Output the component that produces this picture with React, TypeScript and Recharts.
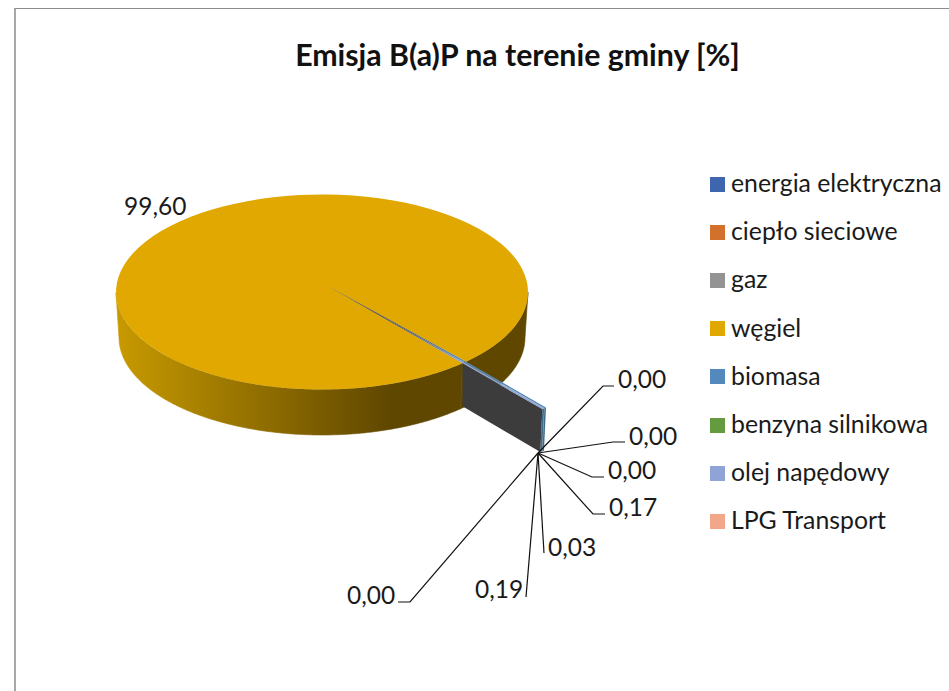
import React from 'react';
import { PieChart, Pie, Legend } from 'recharts';

const categories = ['energia elektryczna', 'ciepło sieciowe', 'gaz', 'węgiel', 'biomasa', 'benzyna silnikowa', 'olej napędowy', 'LPG Transport'];
const values = [0.0, 0.0, 0.0, 99.6, 0.17, 0.03, 0.19, 0.0];
const colors = ['#3d66ae', '#d2702c', '#939393', '#e0a800', '#5489bd', '#639b3e', '#8fa3d6', '#f2a78a'];

// label layout: text left / vertical centre, then the leader's elbow and its end
const labelLayout: { x: number; y: number; line: number[][] }[] = [
  { x: 618, y: 378, line: [[603, 386], [614, 386]] },
  { x: 629, y: 435, line: [[613, 442], [625, 442]] },
  { x: 608, y: 469, line: [[592, 477], [604, 477]] },
  { x: 124, y: 205, line: [] },
  { x: 609, y: 506, line: [[593, 514], [605, 514]] },
  { x: 548, y: 546, line: [[544, 553]] },
  { x: 475, y: 588, line: [[526, 597]] },
  { x: 347, y: 594, line: [[410, 602], [398, 602]] },
];
const leaderOrigin = [538, 453];

const rows = categories.map((name, i) => ({ name, value: values[i], fill: colors[i] }));

const FONT = 'Lato, "Open Sans", sans-serif';
const RY = 97.5;
const BOTTOM_DY = 45.5;
const BOTTOM_RX_DELTA = 3;
const SLAB_DEPTH = 43;
const APEX_DX = 4;
const APEX_DY = -7;
const EXPLODE = 1.585;
const START = -47;

const rad = (a: number) => (a * Math.PI) / 180;
const pt = (cx: number, cy: number, rx: number, ry: number, a: number) => [
  cx + rx * Math.cos(rad(a)),
  cy - ry * Math.sin(rad(a)),
];
const f = (p: number[]) => `${p[0].toFixed(2)} ${p[1].toFixed(2)}`;

// The exploded slices slide outward along the slice direction, seen from the apex.
const shiftFor = (cx: number, cy: number, R: number, a: number) => {
  const rim = pt(cx, cy, R, RY, a);
  return [(EXPLODE - 1) * (rim[0] - (cx + APEX_DX)), (EXPLODE - 1) * (rim[1] - (cy + APEX_DY))];
};

function WallShape(props: any) {
  const { cx, cy, outerRadius: R, startAngle, endAngle, value, index } = props;
  if (!value) return <g />;
  const hi = Math.max(startAngle, endAngle);
  const lo = Math.min(startAngle, endAngle);
  const runs: number[][] = [];
  let run: number[] | null = null;
  for (let a = lo; a <= hi + 1e-6; a += 0.5) {
    if (Math.sin(rad(a)) <= 0.0001) {
      if (!run) { run = []; runs.push(run); }
      run.push(a);
    } else run = null;
  }
  if (run && run[run.length - 1] < hi && Math.sin(rad(hi)) <= 0) run.push(hi);
  const paths = runs.filter((r) => r.length > 0).map((r) => {
    const top = r.map((a) => pt(cx, cy, R, RY, a));
    const bot = r.slice().reverse().map((a) => pt(cx, cy + BOTTOM_DY, R - BOTTOM_RX_DELTA, RY, a));
    return 'M' + [...top, ...bot].map(f).join('L') + 'Z';
  });
  const gid = `wall-${index}`;
  const isWedge = hi - lo < 10;
  const shift = shiftFor(cx, cy, R, START);
  const rimLo = pt(cx, cy, R, RY, lo);
  const rimHi = pt(cx, cy, R, RY, hi);
  const tipLo = [rimLo[0] + shift[0], rimLo[1] + shift[1]];
  const tipHi = [rimHi[0] + shift[0], rimHi[1] + shift[1]];
  const isLast = isWedge && index === values.map((v) => v > 0).lastIndexOf(true);
  return (
    <g>
      <defs>
        <linearGradient id={gid} gradientUnits="userSpaceOnUse" x1={cx - R} x2={cx + 68} y1={0} y2={0}>
          <stop offset="0" stopColor="#c89a00" />
          <stop offset="1" stopColor="#5f4700" />
        </linearGradient>
      </defs>
      {paths.map((d, i) => <path key={i} d={d} fill={`url(#${gid})`} stroke={`url(#${gid})`} strokeWidth={0.6} />)}
      {isWedge && (
        <path
          d={`M${f(tipLo)}L${f(tipHi)}L${tipHi[0] - 2} ${tipHi[1] + SLAB_DEPTH}L${tipLo[0] - 2} ${tipLo[1] + SLAB_DEPTH}Z`}
          fill="#3f6b8c"
        />
      )}
      {isLast && (
        <path
          d={`M${f(rimLo)}L${f(tipLo)}L${tipLo[0] - 2} ${tipLo[1] + SLAB_DEPTH}L${rimLo[0]} ${rimLo[1] + SLAB_DEPTH}Z`}
          fill="#3c3c3c"
        />
      )}
    </g>
  );
}

function TopShape(props: any) {
  const { cx, cy, outerRadius: R, startAngle, endAngle, value, fill, index } = props;
  if (!value) return <g />;
  const hi = Math.max(startAngle, endAngle);
  const lo = Math.min(startAngle, endAngle);
  const isWedge = hi - lo < 10;
  const apex = [cx + APEX_DX, cy + APEX_DY];
  const a = pt(cx, cy, R, RY, hi);
  const b = pt(cx, cy, R, RY, lo);
  const large = hi - lo > 180 ? 1 : 0;
  if (!isWedge) {
    return <path d={`M${f(apex)}L${f(a)}A${R} ${RY} 0 ${large} 1 ${f(b)}Z`} fill={fill} />;
  }
  const shift = shiftFor(cx, cy, R, START);
  const ta = [a[0] + shift[0], a[1] + shift[1]];
  const tb = [b[0] + shift[0], b[1] + shift[1]];
  const gid = `wedge-${index}`;
  return (
    <g>
      <defs>
        <linearGradient id={gid} gradientUnits="userSpaceOnUse" x1={apex[0]} y1={apex[1]} x2={b[0]} y2={b[1]}>
          <stop offset="0.35" stopColor="#2f2a10" />
          <stop offset="1" stopColor={fill} />
        </linearGradient>
      </defs>
      <path d={`M${f(apex)}L${f(a)}L${f(ta)}L${f(tb)}L${f(b)}Z`} fill={`url(#${gid})`} />
    </g>
  );
}

const renderLabel = (props: any) => {
  const l = labelLayout[props.index];
  return (
    <text
      key={props.index}
      x={l.x}
      y={l.y}
      fontFamily={FONT}
      fontSize={24.5}
      fill="#1a1a1a"
      dominantBaseline="central"
    >
      {props.value.toFixed(2).replace('.', ',')}
    </text>
  );
};

const renderLine = (props: any) => {
  const l = labelLayout[props.index];
  if (!l.line.length) return <g key={props.index} />;
  const pts = [leaderOrigin, ...l.line].map((p) => p.join(',')).join(' ');
  return <polyline key={props.index} points={pts} fill="none" stroke="#111" strokeWidth={1.2} />;
};

const renderLegend = (props: any) => {
  const items = categories.map((name) => props.payload.find((p: any) => p.value === name && p.type !== 'none')).filter(Boolean);
  return (
    <div style={{ fontFamily: FONT, fontSize: 24.8, color: '#1a1a1a' }}>
      {items.map((item: any) => (
        <div key={item.value} style={{ height: 48.2, display: 'flex', alignItems: 'center' }}>
          <span style={{ width: 15, height: 15, background: item.color, marginRight: 6, flex: 'none' }} />
          <span style={{ whiteSpace: 'nowrap', lineHeight: '28px', position: 'relative', top: -1 }}>{item.value}</span>
        </div>
      ))}
    </div>
  );
};

export default function App() {
  return (
    <div style={{ position: 'absolute', left: 0, top: 0, width: 949, height: 691, overflow: 'hidden', background: '#fff' }}>
      <div
        style={{
          position: 'absolute', left: 14, top: 8, width: 1000, height: 800,
          borderLeft: '2px solid #a8a8a8', borderTop: '1px solid #8c8c8c',
        }}
      />
      <div
        style={{
          position: 'absolute', left: 0, top: 37, width: 1035, textAlign: 'center',
          fontFamily: FONT, fontWeight: 700, fontSize: 30.3, lineHeight: '34px', color: '#111',
        }}
      >
        Emisja B(a)P na terenie gminy [%]
      </div>
      <div style={{ position: 'absolute', left: 0, top: 0 }}>
        <PieChart width={949} height={691} margin={{ top: 0, left: 0, right: 0, bottom: 0 }}>
          <Legend
            layout="vertical"
            align="right"
            verticalAlign="top"
            content={renderLegend}
            itemSorter={null}
            wrapperStyle={{ left: 710, top: 160, width: 239 }}
          />
          <Pie
            data={rows}
            dataKey="value"
            nameKey="name"
            cx={322}
            cy={292}
            outerRadius={206}
            startAngle={START}
            endAngle={START - 360}
            stroke="none"
            legendType="none"
            shape={WallShape}
            isAnimationActive={false}
          />
          <Pie
            data={rows}
            dataKey="value"
            nameKey="name"
            cx={322}
            cy={292}
            outerRadius={206}
            startAngle={START}
            endAngle={START - 360}
            stroke="none"
            legendType="square"
            shape={TopShape}
            label={renderLabel}
            labelLine={renderLine}
            isAnimationActive={false}
          />
        </PieChart>
      </div>
    </div>
  );
}
